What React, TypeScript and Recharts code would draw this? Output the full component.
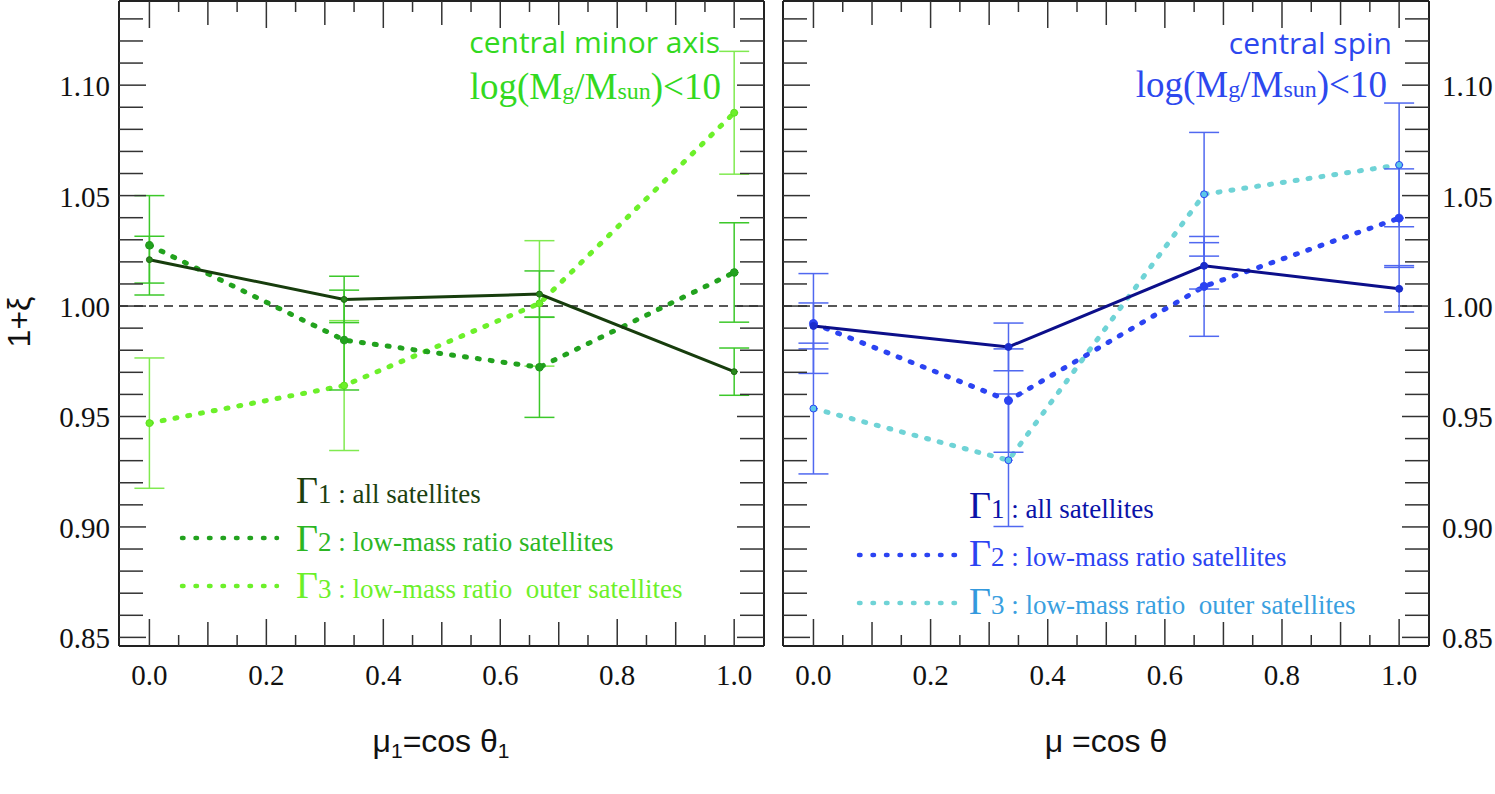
import { LineChart, Line, XAxis, YAxis, ErrorBar, ReferenceLine, Customized } from 'recharts'

// cos theta bins (bin centres)
const mu = [0, 0.333, 0.667, 1.0]

// left panel: central minor axis
const minorAll = [1.021, 1.003, 1.0054, 0.9703]
const minorAllErr = [0.0106, 0.0105, 0.0105, 0.0107]
const minorLow = [1.0275, 0.9846, 0.9723, 1.0152]
const minorLowErr = [0.0225, 0.0226, 0.0227, 0.0225]
const minorOuter = [0.947, 0.964, 1.0012, 1.0875]
const minorOuterErr = [0.0295, 0.0294, 0.0284, 0.0278]

// right panel: central spin
const spinAll = [0.991, 0.9815, 1.0182, 1.0078]
const spinAllErr = [0.0104, 0.0108, 0.0105, 0.0105]
const spinLow = [0.9921, 0.9572, 1.0089, 1.0398]
const spinLowErr = [0.0226, 0.0234, 0.0226, 0.0223]
const spinOuter = [0.9536, 0.9302, 1.0506, 1.0639]
const spinOuterErr = [0.0296, 0.03, 0.028, 0.028]

const xTicks = [0, 0.05, 0.1, 0.15, 0.2, 0.25, 0.3, 0.35, 0.4, 0.45, 0.5, 0.55, 0.6, 0.65, 0.7, 0.75, 0.8, 0.85, 0.9, 0.95, 1.0]
const yTicks = [
  0.85, 0.86, 0.87, 0.88, 0.89, 0.9, 0.91, 0.92, 0.93, 0.94, 0.95, 0.96, 0.97, 0.98, 0.99,
  1.0, 1.01, 1.02, 1.03, 1.04, 1.05, 1.06, 1.07, 1.08, 1.09, 1.1, 1.11, 1.12, 1.13,
]

const X_DOMAIN: [number, number] = [-0.052, 1.051]
const Y_DOMAIN: [number, number] = [0.8461, 1.1381]

const SERIF = '"Liberation Serif", "Times New Roman", serif'
const SANS = '"Liberation Sans", Arial, sans-serif'
const TITLE_SANS = '"Open Sans", "Noto Sans", sans-serif'
const TICK = '#333'
const FRAME = { stroke: '#222', strokeWidth: 2 }
const DOTS = '2 11'

const build = (a: number[], ae: number[], b: number[], be: number[], c: number[], ce: number[]) =>
  mu.map((m, i) => ({ mu: m, g1: a[i], e1: ae[i], g2: b[i], e2: be[i], g3: c[i], e3: ce[i] }))

const leftData = build(minorAll, minorAllErr, minorLow, minorLowErr, minorOuter, minorOuterErr)
const rightData = build(spinAll, spinAllErr, spinLow, spinLowErr, spinOuter, spinOuterErr)

const xTickLen = (v: number) => {
  const k = Math.round(v * 20)
  return k % 4 === 0 ? 27 : k % 2 === 0 ? 24 : 11
}

const BottomTick = (p: any) => {
  const { x, y, payload } = p
  const v = payload.value
  return (
    <g>
      <line x1={x} y1={y} x2={x} y2={y - xTickLen(v)} stroke={TICK} strokeWidth={1.5} />
      {Math.round(v * 20) % 4 === 0 && (
        <text x={x} y={y + 39} textAnchor="middle" fontFamily={SERIF} fontSize={29} fill="#111">
          {v.toFixed(1)}
        </text>
      )}
    </g>
  )
}

const TopTick = (p: any) => {
  const { x, y, payload } = p
  return <line x1={x} y1={y} x2={x} y2={y + xTickLen(payload.value)} stroke={TICK} strokeWidth={1.5} />
}

const makeYTick = (side: 'left' | 'right', withLabel: boolean) => (p: any) => {
  const { x, y, payload } = p
  const v = payload.value
  const major = Math.round(v * 100) % 5 === 0
  const dir = side === 'left' ? 1 : -1
  return (
    <g>
      <line x1={x} y1={y} x2={x + dir * (major ? 27 : 24)} y2={y} stroke={TICK} strokeWidth={1.5} />
      {withLabel && major && (
        <text
          x={side === 'left' ? x - 9 : x + 13}
          y={y + 11}
          textAnchor={side === 'left' ? 'end' : 'start'}
          fontFamily={SERIF}
          fontSize={29}
          fill="#111"
        >
          {v.toFixed(2)}
        </text>
      )}
    </g>
  )
}

type Series = {
  key: string
  err: string
  color: string
  width: number
  dash?: string
  dotFill: string
  dotStroke: string
  r: number
  errColor: string
}

const leftSeries: Series[] = [
  { key: 'g3', err: 'e3', color: '#6cf02a', width: 5, dash: DOTS, dotFill: '#6cf02a', dotStroke: '#5ee020', r: 3.5, errColor: '#80ea50' },
  { key: 'g2', err: 'e2', color: '#22a21e', width: 5, dash: DOTS, dotFill: '#22a21e', dotStroke: '#1f961b', r: 3.8, errColor: '#3cc82a' },
  { key: 'g1', err: 'e1', color: '#173d0d', width: 3, dotFill: '#2a8a1c', dotStroke: '#1f6a14', r: 3, errColor: '#3cc82a' },
]

const rightSeries: Series[] = [
  { key: 'g3', err: 'e3', color: '#6fd3d6', width: 5, dash: DOTS, dotFill: '#5cc8e8', dotStroke: '#2b43f2', r: 3.5, errColor: '#5068f0' },
  { key: 'g2', err: 'e2', color: '#2b43f2', width: 5, dash: DOTS, dotFill: '#2b43f2', dotStroke: '#2b43f2', r: 4, errColor: '#5068f0' },
  { key: 'g1', err: 'e1', color: '#0c0f8a', width: 3, dotFill: '#1a2ccc', dotStroke: '#1a2ccc', r: 3.5, errColor: '#5068f0' },
]

const RIGHT_X = 775

const LegendRow = (props: { x: number; y: number; gamma: string; color: string; gColor?: string; text: string }) => (
  <text x={props.x} y={props.y} fontFamily={SERIF} fill={props.color}>
    <tspan fontSize={38} fill={props.gColor ?? props.color}>Γ</tspan>
    <tspan fontSize={27}>{props.gamma + ' : ' + props.text}</tspan>
  </text>
)

const Sample = (props: { x1: number; x2: number; y: number; color: string }) => (
  <line
    x1={props.x1}
    x2={props.x2}
    y1={props.y}
    y2={props.y}
    stroke={props.color}
    strokeWidth={4.5}
    strokeDasharray="1.5 12"
    strokeLinecap="round"
  />
)

const LeftNotes = () => (
  <g>
    <text x={720} y={53} textAnchor="end" fontFamily={TITLE_SANS} fontSize={30} fill="#33d91f">
      central minor axis
    </text>
    <text x={721} y={99} textAnchor="end" fontFamily={SERIF} fontSize={37} fill="#33d91f">
      log(M<tspan fontSize={24}>g</tspan>/M<tspan fontSize={24}>sun</tspan>)&lt;10
    </text>
    <LegendRow x={296} y={503} gamma="1" color="#1c3f10" text="all satellites" />
    <Sample x1={182} x2={277} y={538} color="#22a21e" />
    <LegendRow x={296} y={551} gamma="2" color="#2cb624" text="low-mass ratio satellites" />
    <Sample x1={182} x2={277} y={586} color="#6cf02a" />
    <LegendRow x={296} y={598} gamma="3" color="#6cf02a" text={'low-mass ratio \u00a0outer satellites'} />
    <text x={30} y={322} transform="rotate(-90 30 322)" textAnchor="middle" fontFamily={SANS} fontSize={32} fill="#111">
      1+ξ
    </text>
    <text x={441} y={752} textAnchor="middle" fontFamily={SANS} fontSize={32} fill="#111">
      μ<tspan fontSize={21} dy={6}>1</tspan>
      <tspan dy={-6}>=cos θ</tspan>
      <tspan fontSize={21} dy={6}>1</tspan>
    </text>
  </g>
)

const RightNotes = () => (
  <g transform={`translate(${-RIGHT_X},0)`}>
    <text x={1392} y={54} textAnchor="end" fontFamily={TITLE_SANS} fontSize={30} fill="#2d48ee">
      central spin
    </text>
    <text x={1387} y={97} textAnchor="end" fontFamily={SERIF} fontSize={37} fill="#2d48ee">
      log(M<tspan fontSize={24}>g</tspan>/M<tspan fontSize={24}>sun</tspan>)&lt;10
    </text>
    <LegendRow x={969} y={518} gamma="1" color="#0a12a8" text="all satellites" />
    <Sample x1={859} x2={958} y={555} color="#2b43f2" />
    <LegendRow x={969} y={566} gamma="2" color="#2b43f2" text="low-mass ratio satellites" />
    <Sample x1={859} x2={958} y={603} color="#6fd3d6" />
    <LegendRow x={969} y={614} gamma="3" color="#3a9fe0" gColor="#3399dd" text={'low-mass ratio \u00a0outer satellites'} />
    <text x={1106} y={752} textAnchor="middle" fontFamily={SANS} fontSize={32} fill="#111">
      μ =cos θ
    </text>
  </g>
)

type PanelProps = {
  data: any[]
  left: number
  width: number
  margin: { top: number; right: number; bottom: number; left: number }
  series: Series[]
  leftLabels: boolean
  rightLabels: boolean
  notes: React.ReactElement
}

function Panel({ data, left, width, margin, series, leftLabels, rightLabels, notes }: PanelProps) {
  return (
    <div style={{ position: 'absolute', left, top: 0 }}>
      <LineChart width={width} height={794} data={data} margin={margin} style={{ overflow: 'visible' }}>
        <XAxis
          dataKey="mu"
          type="number"
          domain={X_DOMAIN}
          allowDataOverflow
          ticks={xTicks}
          interval={0}
          tickSize={0}
          tickMargin={0}
          tickLine={false}
          axisLine={FRAME}
          tick={BottomTick}
          height={1}
        />
        <XAxis
          xAxisId="top"
          orientation="top"
          dataKey="mu"
          type="number"
          domain={X_DOMAIN}
          allowDataOverflow
          ticks={xTicks}
          interval={0}
          tickSize={0}
          tickMargin={0}
          tickLine={false}
          axisLine={FRAME}
          tick={TopTick}
          height={1}
        />
        <YAxis
          type="number"
          domain={Y_DOMAIN}
          allowDataOverflow
          ticks={yTicks}
          interval={0}
          tickSize={0}
          tickMargin={0}
          tickLine={false}
          axisLine={FRAME}
          tick={makeYTick('left', leftLabels)}
          width={1}
        />
        <YAxis
          yAxisId="right"
          orientation="right"
          type="number"
          domain={Y_DOMAIN}
          allowDataOverflow
          ticks={yTicks}
          interval={0}
          tickSize={0}
          tickMargin={0}
          tickLine={false}
          axisLine={FRAME}
          tick={makeYTick('right', rightLabels)}
          width={1}
        />
        <ReferenceLine y={1} stroke="#222" strokeWidth={1.5} strokeDasharray="9 6" />
        {series.map((s) => (
          <Line
            key={s.key}
            type="linear"
            dataKey={s.key}
            stroke={s.color}
            strokeWidth={s.width}
            strokeDasharray={s.dash}
            strokeLinecap="round"
            dot={{ r: s.r, fill: s.dotFill, stroke: s.dotStroke, strokeWidth: 1, strokeDasharray: 'none' }}
            activeDot={false}
            isAnimationActive={false}
          >
            <ErrorBar dataKey={s.err} width={15} stroke={s.errColor} strokeWidth={1.5} direction="y" />
          </Line>
        ))}
        <Customized component={notes} />
      </LineChart>
    </div>
  )
}

export default function App() {
  return (
    <div style={{ position: 'absolute', left: 0, top: 0, width: 1495, height: 794, background: '#fff' }}>
      <Panel
        data={leftData}
        left={0}
        width={RIGHT_X}
        margin={{ top: 0, right: 10, bottom: 147, left: 118 }}
        series={leftSeries}
        leftLabels
        rightLabels={false}
        notes={<LeftNotes />}
      />
      <Panel
        data={rightData}
        left={RIGHT_X}
        width={720}
        margin={{ top: 0, right: 65, bottom: 147, left: 7 }}
        series={rightSeries}
        leftLabels={false}
        rightLabels
        notes={<RightNotes />}
      />
    </div>
  )
}
